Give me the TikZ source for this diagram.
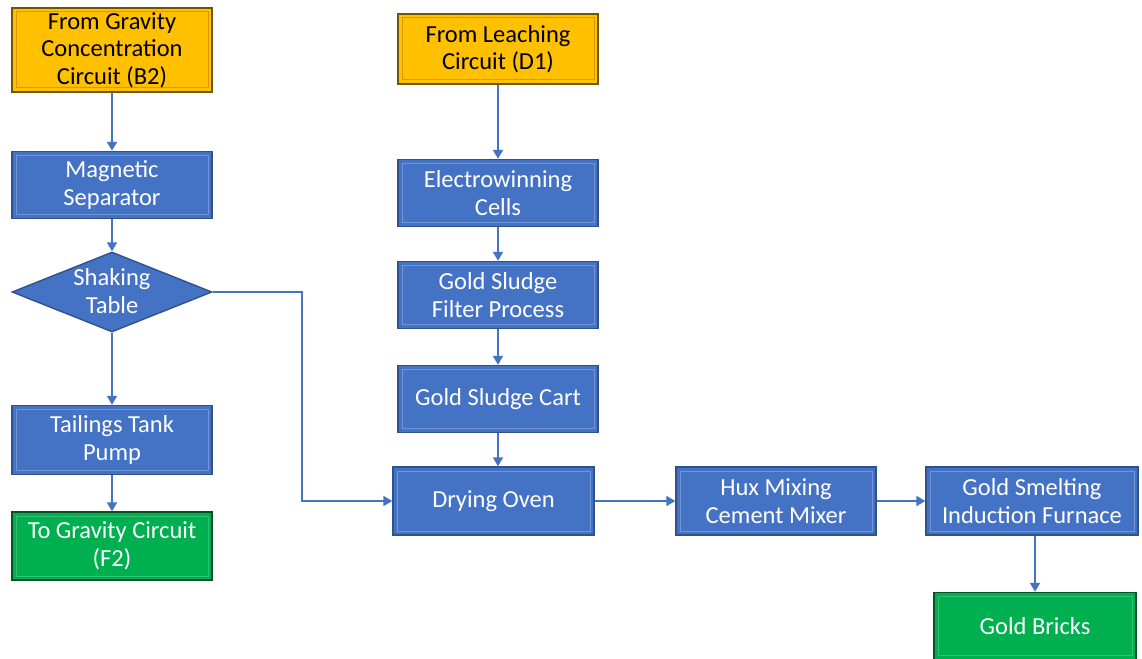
\documentclass[tikz,border=0pt]{standalone}
\usepackage{fontspec}
\setmainfont{Carlito}
\usetikzlibrary{shapes.geometric,arrows.meta}

\definecolor{boxblue}{HTML}{4472C4}
\definecolor{edgeblue}{HTML}{2F528F}
\definecolor{boxgold}{HTML}{FFC000}
\definecolor{edgegold}{HTML}{6E5500}
\definecolor{boxgreen}{HTML}{00B050}
\definecolor{edgegreen}{HTML}{0B4F24}
\definecolor{linkblue}{HTML}{4472C4}

\tikzset{
  bevel/.style={path picture={
    \draw[#1, line width=1pt]
      ([shift={(4pt,4pt)}]path picture bounding box.south west) rectangle
      ([shift={(-4pt,-4pt)}]path picture bounding box.north east);}},
  boxfont/.style={font=\fontsize{24.5}{27.5}\selectfont},
  basebox/.style={rectangle, minimum width=200pt, minimum height=67pt,
    inner sep=2pt, align=center, boxfont, line width=1.4pt},
  procbox/.style={basebox, fill=boxblue, draw=edgeblue, text=white,
    bevel=boxblue!75!white},
  srcbox/.style={basebox, fill=boxgold, draw=edgegold, text=black,
    bevel=boxgold!80!orange!85!black},
  outbox/.style={basebox, fill=boxgreen, draw=edgegreen, text=white,
    bevel=boxgreen!80!white},
  link/.style={draw=linkblue, line width=1.8pt,
    -{Triangle[width=10pt,length=9pt]}},
}

\begin{document}
\begin{tikzpicture}[x=1pt,y=-1pt]
  \useasboundingbox (0,0) rectangle (1142,658);

  % left column
  \node[srcbox, minimum height=84pt] (grav) at (112,50)
    {From Gravity\\Concentration\\Circuit (B2)};
  \node[procbox] (mag) at (112,185) {Magnetic\\Separator};
  \node[diamond, aspect=2.5, inner sep=0pt, minimum width=200pt,
    minimum height=80pt, fill=boxblue, draw=edgeblue, line width=1.4pt]
    (shake) at (112,292) {};
  \node[align=center, text=white, boxfont]
    (shaketxt) at (112,291) {Shaking\\Table};
  \node[procbox, minimum height=69pt] (tail) at (112,440) {Tailings Tank\\Pump};
  \node[outbox, minimum height=68pt] (togr) at (112,546)
    {To Gravity Circuit\\(F2)};

  % middle column
  \node[srcbox, minimum height=70pt] (leach) at (498,49)
    {From Leaching\\Circuit (D1)};
  \node[procbox] (ewin) at (498,193) {Electrowinning\\Cells};
  \node[procbox] (filt) at (498,295) {Gold Sludge\\Filter Process};
  \node[procbox] (cart) at (498,399) {Gold Sludge Cart};
  \node[procbox, minimum width=201pt, minimum height=68pt] (oven) at (493.5,501)
    {Drying Oven};

  % right side
  \node[procbox, minimum height=68pt] (hux) at (776,501)
    {Hux Mixing\\Cement Mixer};
  \node[procbox, minimum width=212pt, minimum height=68pt] (smelt) at (1032,501)
    {Gold Smelting\\Induction Furnace};
  \node[outbox, minimum width=202pt] (brick) at (1035,626) {Gold Bricks};

  % connectors
  \draw[link] (grav) -- (mag);
  \draw[link] (mag) -- (shake.north);
  \draw[link] (shake.south) -- (tail);
  \draw[link] (tail) -- (togr);
  \draw[link] (shake.east) -| (302,501) -- (oven.west);

  \draw[link] (leach.south -| ewin.north) -- (ewin.north);
  \draw[link] (ewin) -- (filt);
  \draw[link] (filt) -- (cart);
  \draw[link] (cart.south) -- (cart.south |- oven.north);

  \draw[link] (oven) -- (hux);
  \draw[link] (hux) -- (smelt);
  \draw[link] (smelt.south -| brick.north) -- (brick.north);
\end{tikzpicture}
\end{document}
